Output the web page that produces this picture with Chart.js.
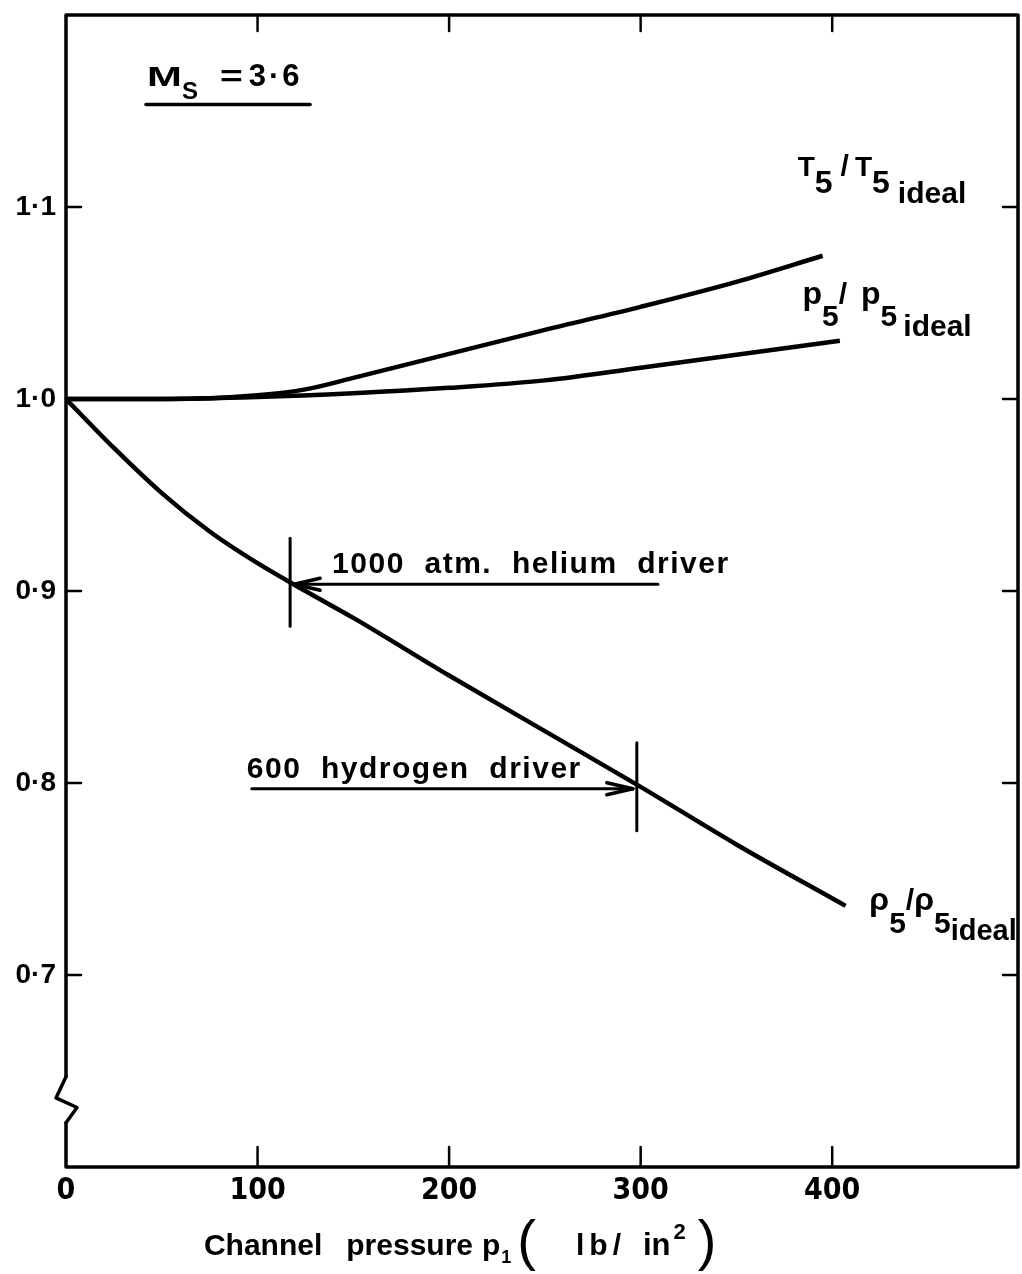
<!DOCTYPE html>
<html>
<head>
<meta charset="utf-8">
<script src="https://cdn.jsdelivr.net/npm/chart.js@4.4.0/dist/chart.umd.min.js"></script>
<style>
  html, body { margin: 0; padding: 0; background: #fff; }
</style>
</head>
<body>
<canvas id="chart" width="1022" height="1274"></canvas>
<script>
// channel pressure p1 (lb/in^2) against ratio to ideal value
const tempX = [0, 50, 100, 125, 150, 200, 250, 300, 350, 395];
const tempY = [1.0, 1.0, 1.002, 1.005, 1.011, 1.0235, 1.036, 1.048, 1.061, 1.0746];
const presX = [0, 50, 100, 150, 200, 250, 300, 350, 404];
const presY = [1.0, 1.0, 1.001, 1.003, 1.0058, 1.0097, 1.0163, 1.023, 1.0303];
const densX = [0, 25, 50, 75, 100, 125, 150, 200, 250, 300, 350, 407];
const densY = [1.0, 0.9745, 0.951, 0.931, 0.9145, 0.900, 0.886, 0.856, 0.827, 0.798, 0.768, 0.736];

const xTicks = [0, 100, 200, 300, 400];
const yTicks = [0.7, 0.8, 0.9, 1.0, 1.1];
const yLabels = ['0·7', '0·8', '0·9', '1·0', '1·1'];

// driver limits marked on the density curve
const driverNames = ['1000  atm.  helium  driver', '600  hydrogen  driver'];
const driverX = [117, 298];
const driverY = [0.9035, 0.797];

const FONT = "'Liberation Sans', Arial, sans-serif";
const B = s => 'bold ' + s + 'px ' + FONT;

function seg(ctx, x1, y1, x2, y2) {
  ctx.beginPath();
  ctx.moveTo(x1, y1);
  ctx.lineTo(x2, y2);
  ctx.stroke();
}

// text with sub/superscripts: [text, font, dy, spacing, scaleX] or a number for extra gap
function parts(ctx, x, y, list) {
  list.forEach(p => {
    if (typeof p === 'number') { x += p; return; }
    const sx = p[4] || 1;
    ctx.font = p[1];
    ctx.letterSpacing = (p[3] || 0) + 'px';
    ctx.save();
    ctx.translate(x, y + p[2]);
    ctx.scale(sx, 1);
    ctx.fillText(p[0], 0, 0);
    ctx.restore();
    x += ctx.measureText(p[0]).width * sx;
  });
  ctx.letterSpacing = '0px';
}

const decor = {
  id: 'decor',
  afterDraw(chart) {
    const { ctx, chartArea: a, scales: { x, y } } = chart;
    ctx.save();
    ctx.strokeStyle = '#000';
    ctx.fillStyle = '#000';
    ctx.lineCap = 'round';
    ctx.lineJoin = 'round';
    ctx.textBaseline = 'alphabetic';

    // frame, left axis broken near the bottom
    const b1 = y.getPixelForValue(0.647), b2 = y.getPixelForValue(0.623);
    ctx.lineWidth = 3.5;
    ctx.beginPath();
    ctx.moveTo(a.left, b1);
    ctx.lineTo(a.left, a.top);
    ctx.lineTo(a.right, a.top);
    ctx.lineTo(a.right, a.bottom);
    ctx.lineTo(a.left, a.bottom);
    ctx.lineTo(a.left, b2);
    ctx.stroke();
    ctx.beginPath();
    ctx.moveTo(a.left, b1);
    ctx.lineTo(a.left - 10, y.getPixelForValue(0.636));
    ctx.lineTo(a.left + 11, y.getPixelForValue(0.631));
    ctx.lineTo(a.left, b2);
    ctx.stroke();

    // inward ticks
    ctx.lineWidth = 2.5;
    yTicks.forEach(v => {
      const py = y.getPixelForValue(v);
      seg(ctx, a.left, py, a.left + 15, py);
      seg(ctx, a.right - 15, py, a.right, py);
    });
    xTicks.slice(1).forEach(v => {
      const px = x.getPixelForValue(v);
      seg(ctx, px, a.bottom, px, a.bottom - 20);
      seg(ctx, px, a.top, px, a.top + 16);
    });

    // driver markers
    const dir = [-1, 1];
    const arrowFrom = [309, 97];
    driverX.forEach((v, i) => {
      const px = x.getPixelForValue(v), py = y.getPixelForValue(driverY[i]);
      ctx.lineWidth = 3;
      seg(ctx, px, py - 46, px, py + 42);
      const tip = px - dir[i] * 4;
      const start = x.getPixelForValue(arrowFrom[i]);
      seg(ctx, start, py, tip, py);
      ctx.lineWidth = 3.5;
      seg(ctx, tip, py, tip - dir[i] * 26, py - 6);
      seg(ctx, tip, py, tip - dir[i] * 26, py + 6);
      ctx.font = B(30);
      ctx.letterSpacing = '1.5px';
      const tx = i === 0 ? tip + 38 : start - 5;
      ctx.fillText(driverNames[i], tx, py - 11);
      ctx.letterSpacing = '0px';
    });

    // curve labels
    parts(ctx, x.getPixelForValue(382), y.getPixelForValue(1.1163), [
      ['T', B(28), 0], ['5', B(32), 17], 8, ['/', B(30), 0], 6,
      ['T', B(28), 0], ['5', B(32), 17], 8, ['ideal', B(30), 27]
    ]);
    parts(ctx, x.getPixelForValue(384.5), y.getPixelForValue(1.0496), [
      ['p', B(32), 0], ['5', B(30), 22], ['/', B(30), 0], 14,
      ['p', B(32), 0], ['5', B(30), 22], 6, ['ideal', B(30), 32]
    ]);
    parts(ctx, x.getPixelForValue(419.4), y.getPixelForValue(0.734), [
      ['ρ', B(32), 0], ['5', B(30), 23], ['/', B(30), 0],
      ['ρ', B(32), 0], ['5', B(30), 23], ['ideal', B(29), 30]
    ]);

    // shock Mach number
    const mx = x.getPixelForValue(42.3), my = y.getPixelForValue(1.1628);
    parts(ctx, mx, my, [
      ['M', B(27), 0, 0, 1.55], ['S', B(24), 13], 22, ['=', B(30), 0, 0, 1.3], 6,
      ['3·6', B(31), 0, 3]
    ]);
    ctx.lineWidth = 3.5;
    seg(ctx, mx - 1, my + 18, mx + 163, my + 18);

    // x axis title
    parts(ctx, x.getPixelForValue(72), a.bottom + 88, [
      ['Channel', B(30), 0], 24, ['pressure', B(30), 0], 9,
      ['p', B(30), 0], 1, ['1', B(18), 8], 6, ['(', '56px ' + FONT, 4], 40,
      ['lb/', B(30), 0, 5], 17, ['in', B(31), 0], 3, ['2', B(22), -16], 12,
      [')', '56px ' + FONT, 4]
    ]);
    ctx.restore();
  }
};

const line = (xs, ys) => xs.map((v, i) => ({ x: v, y: ys[i] }));
const style = {
  borderColor: '#000',
  borderWidth: 4.5,
  pointRadius: 0,
  cubicInterpolationMode: 'monotone',
  fill: false
};

new Chart(document.getElementById('chart'), {
  type: 'line',
  data: {
    datasets: [
      { label: 'T5/T5 ideal', data: line(tempX, tempY), ...style },
      { label: 'p5/p5 ideal', data: line(presX, presY), ...style },
      { label: 'rho5/rho5 ideal', data: line(densX, densY), ...style }
    ]
  },
  options: {
    responsive: false,
    animation: false,
    devicePixelRatio: 1,
    layout: { padding: { top: 15, right: 4, left: 0, bottom: 0 } },
    plugins: { legend: { display: false }, tooltip: { enabled: false } },
    scales: {
      x: {
        type: 'linear',
        min: 0,
        max: 497,
        grid: { display: false, drawTicks: false },
        border: { display: false },
        afterBuildTicks: s => { s.ticks = xTicks.map(v => ({ value: v })); },
        ticks: {
          autoSkip: false,
          padding: 6,
          color: '#000',
          maxRotation: 0,
          font: { family: "'Liberation Sans Narrow', 'DejaVu Sans Condensed', sans-serif", size: 30, weight: 'bold' },
          callback: v => String(v)
        },
        afterFit: s => { s.height = 107; s.paddingLeft = 0; s.paddingRight = 0; }
      },
      y: {
        min: 0.6,
        max: 1.2,
        grid: { display: false, drawTicks: false },
        border: { display: false },
        afterBuildTicks: s => { s.ticks = yTicks.map(v => ({ value: v })); },
        ticks: {
          autoSkip: false,
          padding: 10,
          color: '#000',
          font: { family: FONT, size: 28, weight: 'bold' },
          callback: (v, i) => yLabels[i]
        },
        afterFit: s => { s.width = 66; s.paddingTop = 0; s.paddingBottom = 0; }
      }
    }
  },
  plugins: [decor]
});
</script>
</body>
</html>
